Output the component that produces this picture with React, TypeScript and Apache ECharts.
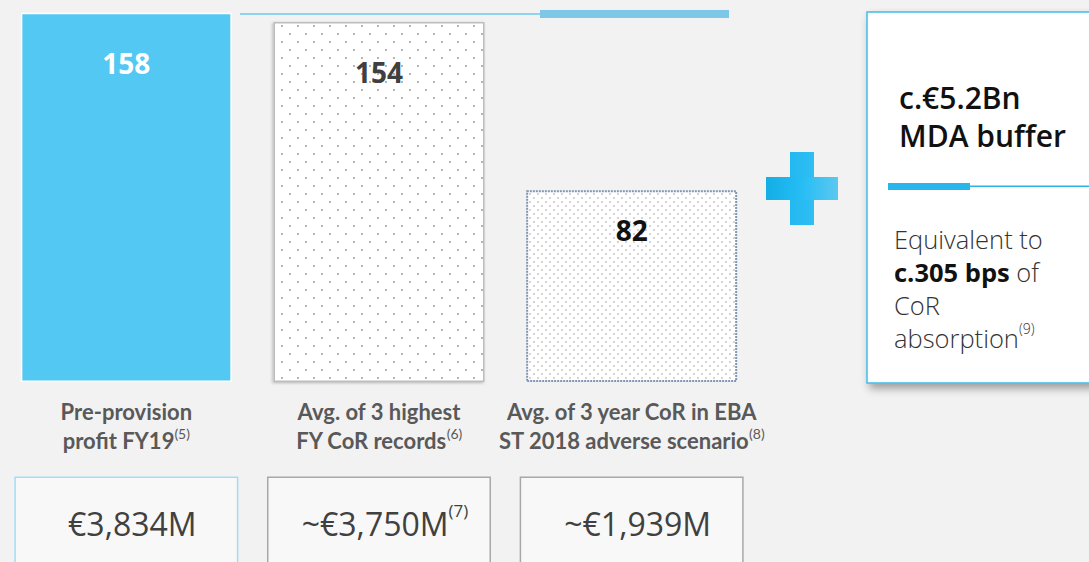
import React, { useEffect, useRef } from "react";
import * as echarts from "echarts";

const categories = [
  "Pre-provision profit FY19",
  "Avg. of 3 highest FY CoR records",
  "Avg. of 3 year CoR in EBA ST 2018 adverse scenario",
];
const catLine1 = ["Pre-provision", "Avg. of 3 highest", "Avg. of 3 year CoR in EBA"];
const catLine2 = ["profit FY19", "FY CoR records", "ST 2018 adverse scenario"];
const catNotes = ["(5)", "(6)", "(8)"];
const barValues = [158, 154, 82];
const amountLabels = ["€3,834M", "~€3,750M", "~€1,939M"];
const amountNotes = ["", "(7)", ""];
const bufferTitle = ["c.€5.2Bn", "MDA buffer"];
const bufferText = ["Equivalent to", "c.305 bps", " of", "CoR", "absorption", "(9)"];

function dots(cell: number, size: number, color: string) {
  const c = document.createElement("canvas");
  c.width = cell;
  c.height = cell;
  const ctx = c.getContext("2d")!;
  ctx.fillStyle = "#ffffff";
  ctx.fillRect(0, 0, cell, cell);
  ctx.fillStyle = color;
  ctx.fillRect(1, 1, size, size);
  ctx.fillRect(cell / 2 + 1, cell / 2 + 1, size, size);
  return { image: c.toDataURL(), repeat: "repeat", imageWidth: cell, imageHeight: cell };
}

export default function App() {
  const ref = useRef<HTMLDivElement>(null);
  useEffect(() => {
    const chart = echarts.init(ref.current!, null, { renderer: "svg" });
    const font = "Lato";
    const sans = "Open Sans";
    const barStyles = [
      { color: "#52c8f3", borderColor: "#ffffff", borderWidth: 1.5 },
      {
        color: dots(16, 2, "#b5b5b5"),
        borderColor: "#bdbdbd",
        borderWidth: 1.5,
        shadowBlur: 3,
        shadowColor: "rgba(0,0,0,0.25)",
        shadowOffsetX: -1,
        shadowOffsetY: 1,
      },
      {
        color: dots(8, 2, "#d4d4d4"),
        borderColor: "#7f95b0",
        borderWidth: 2,
        borderType: [2, 1],
      },
    ];
    const labelColors = ["#ffffff", "#404040", "#111111"];
    const labelDist = [36, 36, 26];
    const boxBorders = ["#a3ddf5", "#a8a8a8", "#a8a8a8"];

    chart.setOption({
      animation: false,
      backgroundColor: "#f2f2f2",
      grid: { left: 0, width: 758, top: 8, height: 374, outerBoundsMode: "none", containLabel: false },
      yAxis: { type: "value", min: 0, max: 160, show: false },
      xAxis: [
        {
          type: "category",
          data: categories,
          position: "bottom",
          axisLine: { show: false },
          axisTick: { show: false },
          axisLabel: {
            interval: 0,
            margin: 15,
            formatter: (_v: string, i: number) =>
              `{m|${catLine1[i]}}\n{m|${catLine2[i]}}{s|${catNotes[i]}}`,
            rich: {
              m: { fontFamily: font, fontSize: 22, fontWeight: "bold", color: "#595959", lineHeight: 29 },
              s: { fontFamily: font, fontSize: 14, color: "#595959", lineHeight: 18, verticalAlign: "top" },
            },
          },
        },
        {
          type: "category",
          data: categories.map((c, i) => ({ value: c, textStyle: { borderColor: boxBorders[i] } })),
          position: "bottom",
          axisLine: { show: false },
          axisTick: { show: false },
          axisLabel: {
            interval: 0,
            margin: 96,
            width: 209,
            padding: [24, 0, 40, 12],
            backgroundColor: "#f8f8f8",
            borderWidth: 1.5,
            borderColor: "#a8a8a8",
            align: "center",
            formatter: (_v: string, i: number) =>
              amountNotes[i] ? `{v|${amountLabels[i]}}{n|${amountNotes[i]}}` : `{v|${amountLabels[i]}}`,
            rich: {
              v: { fontFamily: sans, fontSize: 32, color: "#404040", lineHeight: 42 },
              n: { fontFamily: sans, fontSize: 17, color: "#404040", lineHeight: 24, verticalAlign: "top" },
            },
          },
        },
      ],
      series: [
        {
          type: "bar",
          xAxisIndex: 0,
          barWidth: 211,
          data: barValues.map((v, i) => ({
            value: v,
            itemStyle: barStyles[i],
            label: {
              show: true,
              position: "insideTop",
              distance: labelDist[i],
              fontFamily: sans,
              fontSize: 28,
              fontWeight: "bold",
              color: labelColors[i],
            },
          })),
        },
      ],
      graphic: [
        { type: "rect", shape: { x: 240, y: 13, width: 300, height: 2 }, style: { fill: "#8fd3ee" } },
        { type: "rect", shape: { x: 540, y: 10, width: 189, height: 8 }, style: { fill: "#7dc8e8" } },
        {
          type: "rect",
          shape: { x: 790, y: 152, width: 24, height: 73 },
          style: {
            fill: new echarts.graphic.LinearGradient(0, 0, 1, 0, [
              { offset: 0, color: "#22b8f0" },
              { offset: 1, color: "#2ebff3" },
            ]),
          },
        },
        {
          type: "rect",
          shape: { x: 766, y: 177, width: 72, height: 23 },
          style: {
            fill: new echarts.graphic.LinearGradient(0, 0, 1, 0, [
              { offset: 0, color: "#12aee5" },
              { offset: 0.5, color: "#26bdf5" },
              { offset: 1, color: "#5cc8f0" },
            ]),
          },
        },
        {
          type: "rect",
          shape: { x: 867, y: 12, width: 240, height: 371 },
          style: {
            fill: "#ffffff",
            stroke: "#3dbfea",
            lineWidth: 1.5,
            shadowBlur: 8,
            shadowOffsetX: 3,
            shadowOffsetY: 5,
            shadowColor: "rgba(0,0,0,0.35)",
          },
        },
        {
          type: "text",
          x: 899,
          y: 78,
          style: {
            text: bufferTitle.join("\n"),
            fontFamily: sans,
            fontSize: 30,
            fontWeight: 600,
            lineHeight: 38,
            fill: "#111111",
            verticalAlign: "top",
          },
        },
        { type: "rect", shape: { x: 888, y: 183, width: 82, height: 7 }, style: { fill: "#29b6ec" } },
        { type: "rect", shape: { x: 970, y: 185.5, width: 119, height: 1.5 }, style: { fill: "#29b6ec" } },
        {
          type: "text",
          x: 894,
          y: 222,
          style: {
            text: `{r|${bufferText[0]}}\n{b|${bufferText[1]}}{r|${bufferText[2]}}\n{r|${bufferText[3]}}\n{r|${bufferText[4]}}{s|${bufferText[5]}}`,
            verticalAlign: "top",
            rich: {
              r: { fontFamily: sans, fontSize: 25.5, fontWeight: 300, fill: "#333333", lineHeight: 33 },
              b: { fontFamily: sans, fontSize: 25.5, fontWeight: "bold", fill: "#111111", lineHeight: 33 },
              s: { fontFamily: sans, fontSize: 14, fontWeight: 300, fill: "#333333", lineHeight: 20, verticalAlign: "top" },
            },
          },
        },
      ],
    });
    return () => chart.dispose();
  }, []);
  return (
    <div
      ref={ref}
      style={{ position: "fixed", left: 0, top: 0, width: 1089, height: 562 }}
    />
  );
}
